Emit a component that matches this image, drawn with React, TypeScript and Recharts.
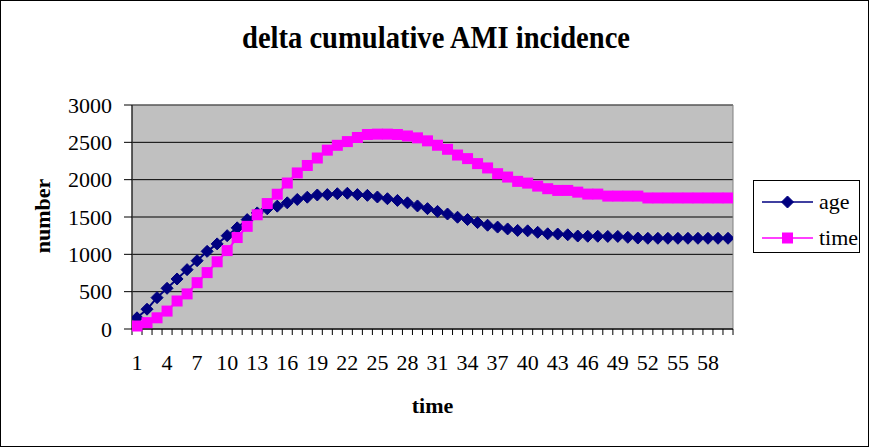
import React from 'react';
import { LineChart, Line, XAxis, YAxis, CartesianGrid, Legend, ReferenceArea, Label } from 'recharts';

// time steps 1..60
const times = [
  1, 2, 3, 4, 5, 6, 7, 8, 9, 10, 11, 12, 13, 14, 15, 16, 17, 18, 19, 20,
  21, 22, 23, 24, 25, 26, 27, 28, 29, 30, 31, 32, 33, 34, 35, 36, 37, 38, 39, 40,
  41, 42, 43, 44, 45, 46, 47, 48, 49, 50, 51, 52, 53, 54, 55, 56, 57, 58, 59, 60,
];

const ageValues = [
  150, 265, 420, 545, 670, 795, 915, 1040, 1140, 1250,
  1355, 1465, 1555, 1610, 1645, 1690, 1735, 1765, 1795, 1800,
  1812, 1818, 1800, 1790, 1768, 1745, 1722, 1690, 1648, 1612,
  1575, 1540, 1497, 1466, 1425, 1390, 1365, 1340, 1320, 1315,
  1295, 1275, 1272, 1262, 1245, 1242, 1242, 1240, 1240, 1228,
  1218, 1215, 1215, 1215, 1215, 1215, 1215, 1215, 1215, 1215,
];

const timeValues = [
  40, 85, 150, 240, 375, 470, 620, 755, 900, 1050,
  1225, 1375, 1530, 1680, 1805, 1955, 2090, 2190, 2290, 2395,
  2460, 2510, 2565, 2605, 2610, 2610, 2605, 2585, 2560, 2520,
  2461, 2407, 2330, 2282, 2215, 2157, 2080, 2035, 1977, 1954,
  1914, 1879, 1856, 1856, 1833, 1807, 1807, 1780, 1780, 1780,
  1780, 1755, 1755, 1755, 1755, 1755, 1755, 1755, 1755, 1755,
];

const xTickLabels = [1, 4, 7, 10, 13, 16, 19, 22, 25, 28, 31, 34, 37, 40, 43, 46, 49, 52, 55, 58];
const yTicks = [0, 500, 1000, 1500, 2000, 2500, 3000];

const data = times.map((t, i) => ({ t, age: ageValues[i], time: timeValues[i] }));
// tick marks sit between categories, like Excel
const xBoundaries = times.map((t) => t - 0.5).concat(times[times.length - 1] + 0.5);

const FONT = '"Liberation Serif", "Times New Roman", serif';
const NAVY = '#000080';
const MAGENTA = '#FF00FF';
const W = 869;
const H = 447;
const PLOT_LEFT = 132;
const PLOT_RIGHT = 733;
const HALF_BAND = (PLOT_RIGHT - PLOT_LEFT) / times.length / 2;

function diamond(cx: number, cy: number, r: number, color: string, key?: any) {
  return (
    <polygon
      key={key}
      points={`${cx},${cy - r} ${cx + r},${cy} ${cx},${cy + r} ${cx - r},${cy}`}
      fill={color}
      stroke={color}
    />
  );
}

function square(cx: number, cy: number, r: number, color: string, key?: any) {
  return <rect key={key} x={cx - r} y={cy - r} width={2 * r} height={2 * r} fill={color} />;
}

const AgeDot = (props: any) => {
  if (props.cx == null || props.cy == null) return <g key={props.index} />;
  return diamond(props.cx, props.cy, 6, NAVY, props.index);
};

const TimeDot = (props: any) => {
  if (props.cx == null || props.cy == null) return <g key={props.index} />;
  return square(props.cx, props.cy, 5.5, MAGENTA, props.index);
};

const XTick = (props: any) => {
  const { x, y, payload } = props;
  const c = payload.value + 0.5;
  if (!xTickLabels.includes(c)) return <g />;
  return (
    <text x={x + HALF_BAND} y={y + 33} textAnchor="middle" fontFamily={FONT} fontSize={22} fill="#000">
      {c}
    </text>
  );
};

const LegendBox = (props: any) => {
  const items = props.payload || [];
  return (
    <svg width={108} height={74} style={{ display: 'block' }}>
      <rect x={0.5} y={0.5} width={106} height={72} fill="#fff" stroke="#000" />
      {items.map((item: any, i: number) => {
        const cy = 22 + i * 36;
        const color = item.color;
        return (
          <g key={item.value}>
            <line x1={9} x2={60} y1={cy} y2={cy} stroke={color} strokeWidth={1.5} />
            {item.dataKey === 'age' ? diamond(34.5, cy, 6, color) : square(34.5, cy, 5.5, color)}
            <text x={66} y={cy + 7} fontFamily={FONT} fontSize={22} fill="#000">
              {item.value}
            </text>
          </g>
        );
      })}
    </svg>
  );
};

export default function App() {
  return (
    <div style={{ position: 'relative', width: W, height: H }}>
      <style>{`body{margin:0}`}</style>
      <LineChart
        width={W}
        height={H}
        data={data}
        margin={{ top: 105, right: W - PLOT_RIGHT, left: 0, bottom: 0 }}
      >
        <CartesianGrid vertical={false} stroke="#000" fill="#C0C0C0" fillOpacity={1} />
        <ReferenceArea x1={0.5} x2={60.5} y1={0} y2={3000} fill="none" stroke="#808080" ifOverflow="visible" />
        <XAxis
          dataKey="t"
          type="number"
          domain={[0.5, 60.5]}
          ticks={xBoundaries}
          interval={0}
          height={H - 329}
          tickSize={6}
          tickMargin={2}
          tick={<XTick />}
          stroke="#000"
          allowDataOverflow
        >
          <Label
            content={(p: any) => (
              <text
                x={p.viewBox.x + p.viewBox.width / 2}
                y={p.viewBox.y + 84}
                textAnchor="middle"
                fontFamily={FONT}
                fontWeight="bold"
                fontSize={22}
                fill="#000"
              >
                time
              </text>
            )}
          />
        </XAxis>
        <YAxis
          width={PLOT_LEFT}
          domain={[0, 3000]}
          ticks={yTicks}
          interval={0}
          tickSize={8}
          tickMargin={12}
          stroke="#000"
          tick={{ fontFamily: FONT, fontSize: 22, fill: '#000' }}
        >
          <Label
            content={(p: any) => {
              const cx = 50;
              const cy = p.viewBox.y + p.viewBox.height / 2 - 1;
              return (
                <text
                  x={cx}
                  y={cy}
                  transform={`rotate(-90, ${cx}, ${cy})`}
                  textAnchor="middle"
                  fontFamily={FONT}
                  fontWeight="bold"
                  fontSize={22}
                  fill="#000"
                >
                  number
                </text>
              );
            }}
          />
        </YAxis>
        <Legend
          layout="horizontal"
          align="center"
          verticalAlign="middle"
          content={<LegendBox />}
          wrapperStyle={{ left: 753, top: 180, right: 'auto', bottom: 'auto', width: 108, height: 74 }}
        />
        <Line
          type="linear"
          dataKey="age"
          name="age"
          stroke={NAVY}
          strokeWidth={2}
          dot={AgeDot}
          activeDot={false}
          isAnimationActive={false}
        />
        <Line
          type="linear"
          dataKey="time"
          name="time"
          stroke={MAGENTA}
          strokeWidth={2}
          dot={TimeDot}
          activeDot={false}
          isAnimationActive={false}
        />
      </LineChart>
      <svg
        width={W}
        height={H}
        style={{ position: 'absolute', left: 0, top: 0, pointerEvents: 'none' }}
      >
        <rect x={0.5} y={0.5} width={W - 1} height={H - 1} fill="none" stroke="#000" />
        <text
          x={436}
          y={48}
          textAnchor="middle"
          fontFamily={FONT}
          fontWeight="bold"
          fontSize={31}
          textLength={388}
          lengthAdjust="spacingAndGlyphs"
          fill="#000"
        >
          delta cumulative AMI incidence
        </text>
      </svg>
    </div>
  );
}
